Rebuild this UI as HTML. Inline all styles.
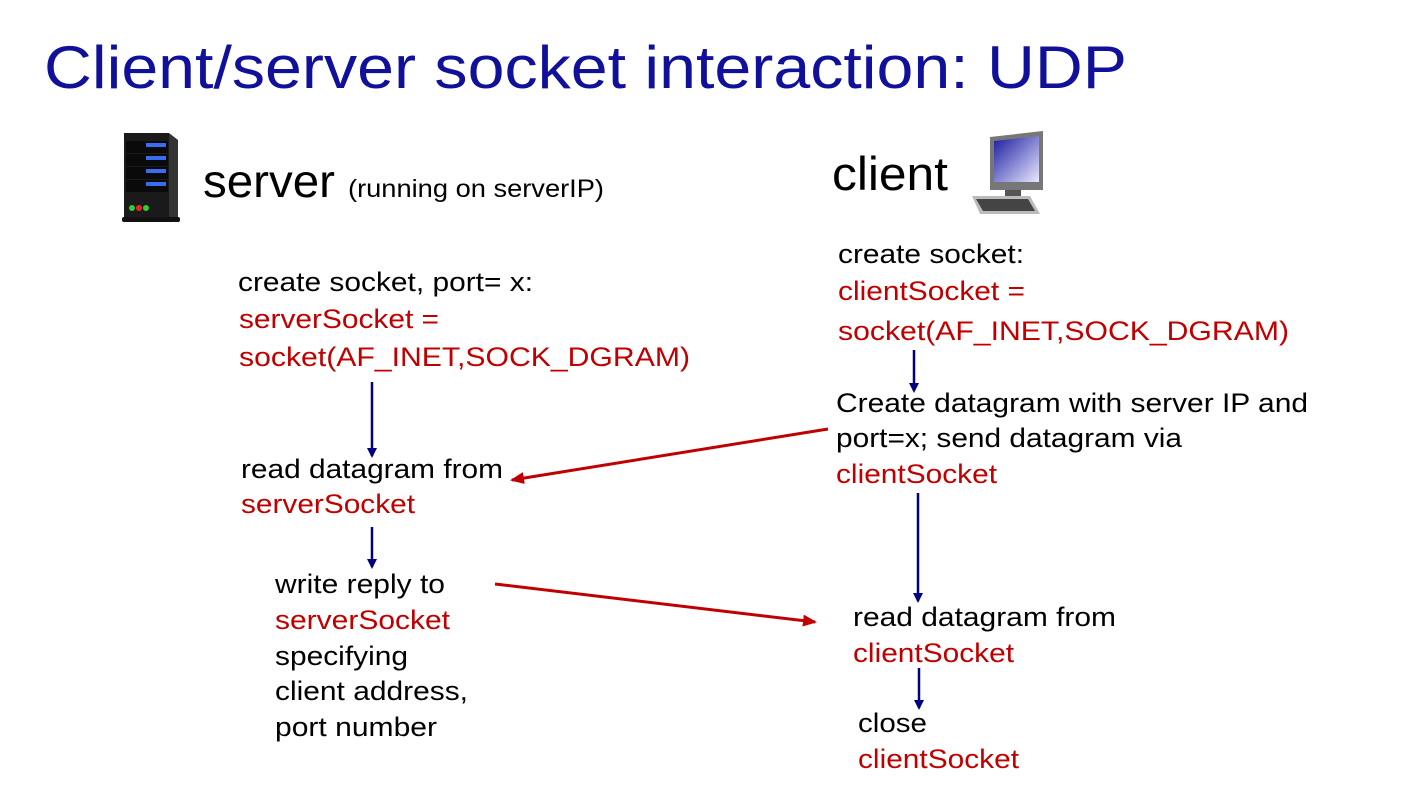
<!DOCTYPE html>
<html><head><meta charset="utf-8"><style>
html,body{margin:0;padding:0;background:#fff;width:1402px;height:800px;overflow:hidden}
svg{display:block}
.b{font-family:"Liberation Sans",Arial,sans-serif;font-size:27px;fill:#000}
.r{font-family:"Liberation Sans",Arial,sans-serif;font-size:27px;fill:#c00000}
</style></head><body>
<svg width="1402" height="800" viewBox="0 0 1402 800" xmlns="http://www.w3.org/2000/svg">
<defs>
<marker id="ab" markerWidth="10" markerHeight="10" refX="8" refY="5" orient="auto" markerUnits="userSpaceOnUse"><path d="M0,0 L10,5 L0,10 z" fill="#000080"/></marker>
<marker id="ar" markerWidth="14" markerHeight="12" refX="12" refY="6" orient="auto" markerUnits="userSpaceOnUse"><path d="M0,0 L14,6 L0,12 z" fill="#c00000"/></marker>
<linearGradient id="scr" x1="0" y1="0" x2="1" y2="1"><stop offset="0" stop-color="#1a1aa0"/><stop offset="1" stop-color="#e8e8ff"/></linearGradient>
</defs>
<text x="44" y="88" font-family="Liberation Sans,Arial,sans-serif" font-size="60" fill="#10109a" textLength="1083" lengthAdjust="spacingAndGlyphs">Client/server socket interaction: UDP</text>

<g>
<rect x="124" y="133" width="45" height="86" fill="#1a1a1a"/>
<polygon points="169,133 178,140 178,219 169,219" fill="#333"/>
<rect x="126" y="141" width="42" height="12" fill="#0a0a0a"/>
<rect x="126" y="154" width="42" height="12" fill="#0a0a0a"/>
<rect x="126" y="167" width="42" height="12" fill="#0a0a0a"/>
<rect x="126" y="180" width="42" height="12" fill="#0a0a0a"/>
<rect x="146" y="143" width="20" height="4" fill="#3b6cf0"/>
<rect x="146" y="156" width="20" height="4" fill="#3b6cf0"/>
<rect x="146" y="169" width="20" height="4" fill="#3b6cf0"/>
<rect x="146" y="182" width="20" height="4" fill="#3b6cf0"/>
<circle cx="132" cy="208" r="3" fill="#3c3"/><circle cx="139" cy="208" r="3" fill="#e22"/><circle cx="146" cy="208" r="3" fill="#3c3"/>
<rect x="122" y="217" width="58" height="5" rx="2" fill="#111"/>
</g>
<text x="203" y="197" font-family="Liberation Sans,Arial,sans-serif" font-size="46" fill="#000" textLength="132" lengthAdjust="spacingAndGlyphs">server</text>
<text x="348" y="197" font-family="Liberation Sans,Arial,sans-serif" font-size="25" fill="#000" textLength="256" lengthAdjust="spacingAndGlyphs">(running on serverIP)</text>

<g>
<polygon points="990,137 1043,131 1043,190 990,190" fill="#777"/>
<polygon points="994,141 1039,136 1039,182 994,182" fill="url(#scr)"/>
<rect x="1005" y="190" width="16" height="10" fill="#555"/>
<polygon points="972,196 1030,196 1040,214 980,214" fill="#bbb"/>
<polygon points="976,199 1028,199 1035,211 983,211" fill="#444"/>
</g>
<text x="832" y="190" font-family="Liberation Sans,Arial,sans-serif" font-size="47" fill="#000" textLength="116" lengthAdjust="spacingAndGlyphs">client</text>

<text class="b" x="238" y="291" textLength="295" lengthAdjust="spacingAndGlyphs">create socket, port= x:</text>
<text class="r" x="239" y="328" textLength="200" lengthAdjust="spacingAndGlyphs">serverSocket =</text>
<text class="r" x="239" y="366" textLength="451" lengthAdjust="spacingAndGlyphs">socket(AF_INET,SOCK_DGRAM)</text>
<line x1="372" y1="382" x2="372" y2="456" stroke="#000080" stroke-width="2.5" marker-end="url(#ab)"/>
<text class="b" x="241" y="478" textLength="262" lengthAdjust="spacingAndGlyphs">read datagram from</text>
<text class="r" x="241" y="513" textLength="174" lengthAdjust="spacingAndGlyphs">serverSocket</text>
<line x1="372" y1="527" x2="372" y2="567" stroke="#000080" stroke-width="2.5" marker-end="url(#ab)"/>
<text class="b" x="275" y="593" textLength="170" lengthAdjust="spacingAndGlyphs">write reply to</text>
<text class="r" x="275" y="629" textLength="175" lengthAdjust="spacingAndGlyphs">serverSocket</text>
<text class="b" x="275" y="665" textLength="133" lengthAdjust="spacingAndGlyphs">specifying</text>
<text class="b" x="275" y="700" textLength="193" lengthAdjust="spacingAndGlyphs">client address,</text>
<text class="b" x="275" y="736" textLength="162" lengthAdjust="spacingAndGlyphs">port number</text>

<text class="b" x="838" y="263" textLength="186" lengthAdjust="spacingAndGlyphs">create socket:</text>
<text class="r" x="838" y="300" textLength="187" lengthAdjust="spacingAndGlyphs">clientSocket =</text>
<text class="r" x="838" y="340" textLength="451" lengthAdjust="spacingAndGlyphs">socket(AF_INET,SOCK_DGRAM)</text>
<line x1="914" y1="350" x2="914" y2="391" stroke="#000080" stroke-width="2.5" marker-end="url(#ab)"/>
<text class="b" x="836" y="412" textLength="472" lengthAdjust="spacingAndGlyphs">Create datagram with server IP and</text>
<text class="b" x="836" y="447" textLength="346" lengthAdjust="spacingAndGlyphs">port=x; send datagram via</text>
<text class="r" x="836" y="483" textLength="161" lengthAdjust="spacingAndGlyphs">clientSocket</text>
<line x1="918" y1="493" x2="918" y2="601" stroke="#000080" stroke-width="2.5" marker-end="url(#ab)"/>
<text class="b" x="853" y="626" textLength="263" lengthAdjust="spacingAndGlyphs">read datagram from</text>
<text class="r" x="853" y="662" textLength="161" lengthAdjust="spacingAndGlyphs">clientSocket</text>
<line x1="919" y1="668" x2="919" y2="708" stroke="#000080" stroke-width="2.5" marker-end="url(#ab)"/>
<text class="b" x="858" y="732" textLength="69" lengthAdjust="spacingAndGlyphs">close</text>
<text class="r" x="858" y="768" textLength="161" lengthAdjust="spacingAndGlyphs">clientSocket</text>

<line x1="828" y1="429" x2="512" y2="480" stroke="#c00000" stroke-width="3" marker-end="url(#ar)"/>
<line x1="495" y1="584" x2="815" y2="622" stroke="#c00000" stroke-width="3" marker-end="url(#ar)"/>
</svg>
</body></html>
